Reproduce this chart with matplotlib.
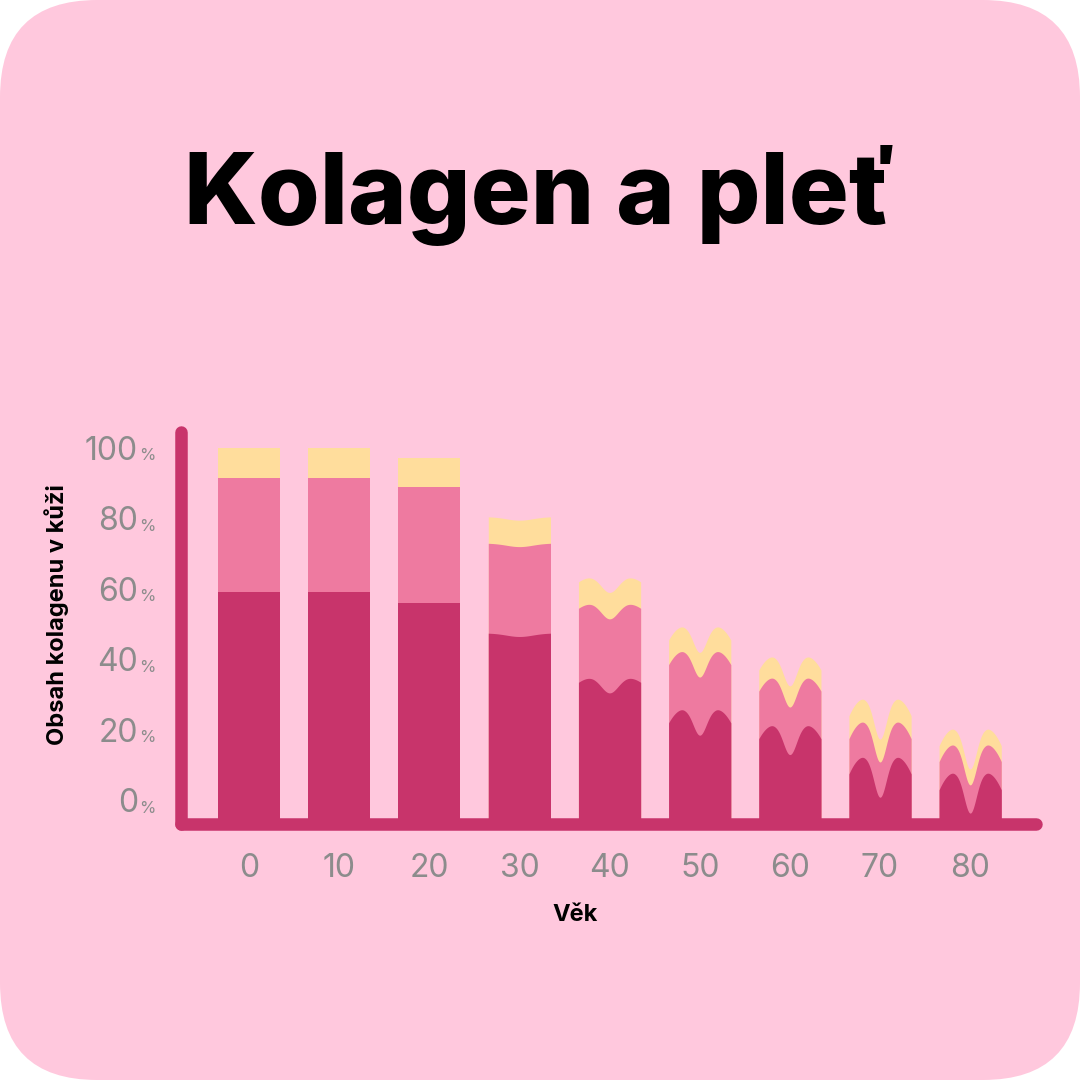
import numpy as np
import matplotlib
matplotlib.use("Agg")
import matplotlib.pyplot as plt
from matplotlib.patches import FancyBboxPatch

ages = [0, 10, 20, 30, 40, 50, 60, 70, 80]
yellow_top = [101, 101, 98, 81.5, 64.5, 50.5, 42, 30, 21.5]
pink_top = [92.5, 92.5, 90, 74, 57, 43.5, 36, 23.5, 17]
dark_top = [60, 60, 57, 48.5, 36, 27, 22.5, 13.5, 9]
dip_depth = [0, 0, 0, 1, 4.5, 7.5, 8.5, 11.6, 11.6]
dip_width = [0.5, 0.5, 0.5, 0.6, 0.38, 0.3, 0.3, 0.28, 0.28]
edge_drop = [0, 0, 0, 0, 1.5, 4, 4, 5, 5]
yticks = [0, 20, 40, 60, 80, 100]

BG = "#FFC8DD"; DARK = "#C8346B"; PINK = "#EE7AA0"; YEL = "#FFDD9C"; GRAY = "#8C8C8C"

fig = plt.figure(figsize=(10.8, 10.8), dpi=100)
fig.patch.set_facecolor("white")
fig.patches.append(FancyBboxPatch((0.0, 0.0), 1, 1, boxstyle="round,pad=0,rounding_size=0.09",
                                  transform=fig.transFigure, facecolor=BG, edgecolor="none", zorder=-10))

W, H = 1080, 1080
ax = fig.add_axes([175 / W, 1 - 830 / H, (1045 - 175) / W, (830 - 425) / H])
ax.set_axis_off()
ax.set_xlim(-0.82, 8.83)
ax.set_ylim(-7.4, 107.5)

base = -5.7
bw = 0.69
t = np.linspace(-1, 1, 300)
for i in range(len(ages)):
    x = i + t * bw / 2
    g = dip_depth[i] * np.exp(-(t / dip_width[i]) ** 2) + edge_drop[i] * np.clip((np.abs(t) - 0.5) / 0.5, 0, None) ** 2
    for top, col in ((yellow_top[i], YEL), (pink_top[i], PINK), (dark_top[i], DARK)):
        ax.fill_between(x, base, top - g, color=col, linewidth=0)

ax.plot([-0.755, -0.755], [base, 105.5], color=DARK, lw=9, solid_capstyle="round", clip_on=False)
ax.plot([-0.755, 8.73], [base, base], color=DARK, lw=9, solid_capstyle="round", clip_on=False)

for v in yticks:
    ax.text(-1.23, v, str(v), ha="right", va="center", fontsize=23, color=GRAY, family="Inter", clip_on=False)
    ax.text(-1.22, v - 1.2, "%", ha="left", va="center", fontsize=12, color=GRAY, family="Inter", clip_on=False)
for i, a in enumerate(ages):
    ax.text(i, -18.2, str(a), ha="center", va="center", fontsize=23, color=GRAY, family="Inter", clip_on=False)

fig.text(540 / W, 1 - 195 / H, "Kolagen a pleť", ha="center", va="center", fontsize=72,
         fontweight="heavy", family="Inter", color="black")
fig.text(57 / W, 1 - 615 / H, "Obsah kolagenu v kůži", rotation=90, ha="center", va="center",
         fontsize=17, fontweight="bold", family="Inter", color="black")
fig.text(575 / W, 1 - 915 / H, "Věk", ha="center", va="center", fontsize=17, fontweight="bold",
         family="Inter", color="black")

fig.savefig("out.png", dpi=100, facecolor=fig.get_facecolor())
